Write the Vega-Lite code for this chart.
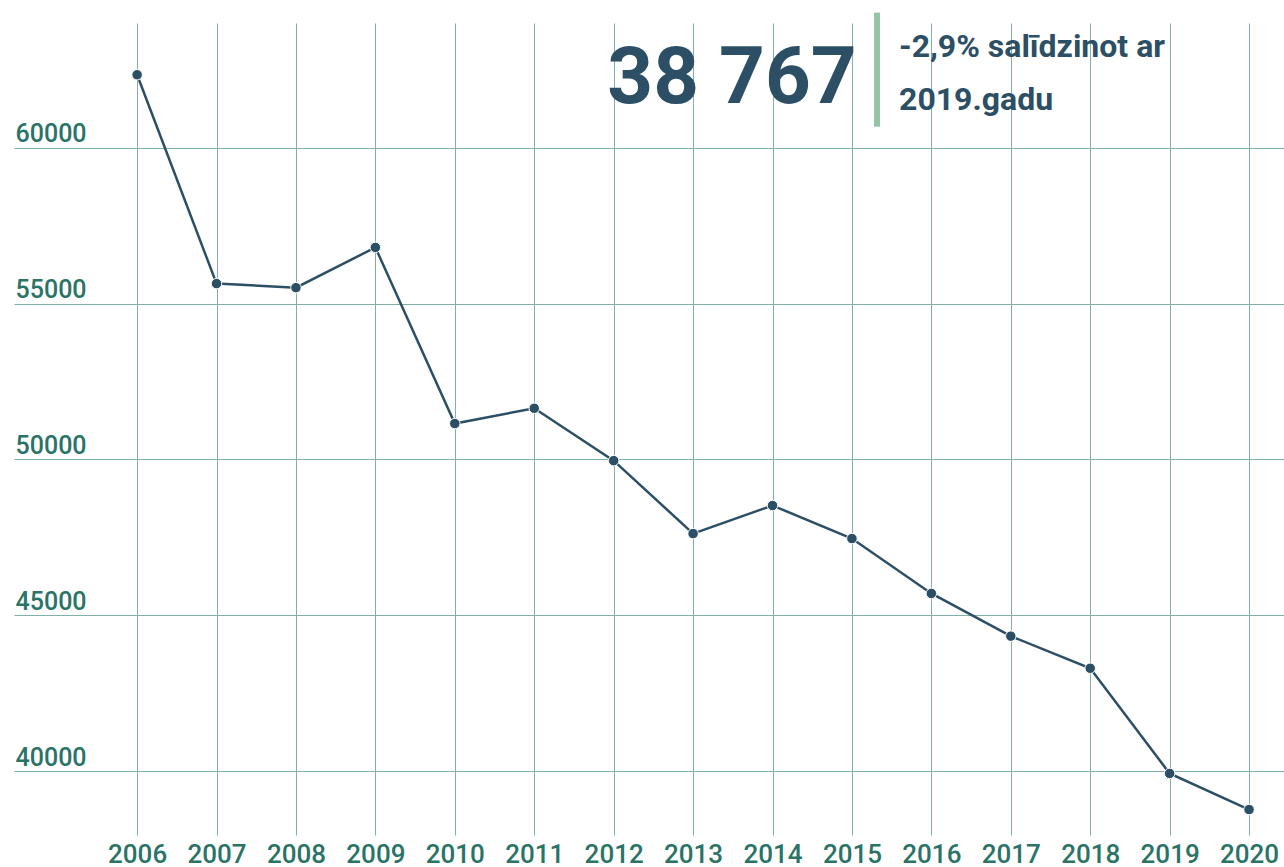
{
  "$schema": "https://vega.github.io/schema/vega-lite/v6.json",
  "width": 1270,
  "height": 812,
  "autosize": {"type": "none"},
  "padding": {"left": 14, "top": 23, "right": 0, "bottom": 32},
  "background": "#ffffff",
  "config": {"view": {"stroke": null}, "font": "Roboto"},
  "data": {"values": [
    {"year": 2006, "value": 62340},
    {"year": 2007, "value": 55640},
    {"year": 2008, "value": 55510},
    {"year": 2009, "value": 56800},
    {"year": 2010, "value": 51150},
    {"year": 2011, "value": 51640},
    {"year": 2012, "value": 49960},
    {"year": 2013, "value": 47620},
    {"year": 2014, "value": 48520},
    {"year": 2015, "value": 47460},
    {"year": 2016, "value": 45700},
    {"year": 2017, "value": 44330},
    {"year": 2018, "value": 43300},
    {"year": 2019, "value": 39925},
    {"year": 2020, "value": 38767}
  ]},
  "layer": [
    {"mark": {"type": "line", "color": "#2c4f66", "strokeWidth": 2.5},
      "encoding": {
        "x": {"field": "year", "type": "quantitative",
          "scale": {"domain": [2004.45, 2020.44], "nice": false, "zero": false},
          "axis": {"title": null, "values": [2006,2007,2008,2009,2010,2011,2012,2013,2014,2015,2016,2017,2018,2019,2020],
            "format": "d", "grid": true, "gridColor": "#80b0a8", "gridWidth": 1, "domain": false, "ticks": false, "tickSize": 0,
            "labelPadding": 32, "labelFont": "Roboto", "labelFontSize": 26, "labelFontWeight": 500, "labelColor": "#2a7367",
            "labelBaseline": "bottom", "labelFlush": false}},
        "y": {"field": "value", "type": "quantitative",
          "scale": {"domain": [37950, 64000], "nice": false, "zero": false},
          "axis": {"title": null, "values": [40000,45000,50000,55000,60000], "format": "d",
            "grid": true, "gridColor": "#80b0a8", "gridWidth": 1, "domain": false, "ticks": false, "tickSize": 0,
            "labelAlign": "left", "labelPadding": -1, "labelBaseline": "alphabetic", "labelOffset": -6,
            "labelFont": "Roboto", "labelFontSize": 25, "labelFontWeight": 500, "labelColor": "#2a7367"}}
      }},
    {"mark": {"type": "point", "filled": true, "color": "#2c4f66", "size": 110, "opacity": 1, "stroke": "#ffffff", "strokeWidth": 1},
      "encoding": {
        "x": {"field": "year", "type": "quantitative"},
        "y": {"field": "value", "type": "quantitative"}
      }},
    {"data": {"values": [{"label": "38 767"}]},
      "mark": {"type": "text", "align": "right", "baseline": "alphabetic", "font": "Roboto", "fontSize": 80, "fontWeight": 700, "color": "#2c4f66"},
      "encoding": {"x": {"datum": 2015.06, "type": "quantitative"}, "y": {"datum": 61445, "type": "quantitative"}, "text": {"field": "label", "type": "nominal"}}},
    {"data": {"values": [{"a": 1}]},
      "mark": {"type": "rule", "color": "#93c5a5", "strokeWidth": 6, "clip": false},
      "encoding": {"x": {"datum": 2015.316, "type": "quantitative"}, "y": {"datum": 64334, "type": "quantitative"}, "y2": {"datum": 60674}}},
    {"data": {"values": [{"label": ["-2,9% salīdzinot ar", "2019.gadu"]}]},
      "mark": {"type": "text", "align": "left", "baseline": "alphabetic", "font": "Roboto", "fontSize": 32, "fontWeight": 700, "lineHeight": 53, "color": "#2c4f66"},
      "encoding": {"x": {"datum": 2015.593, "type": "quantitative"}, "y": {"datum": 62921, "type": "quantitative"}, "text": {"field": "label"}}}
  ]
}
